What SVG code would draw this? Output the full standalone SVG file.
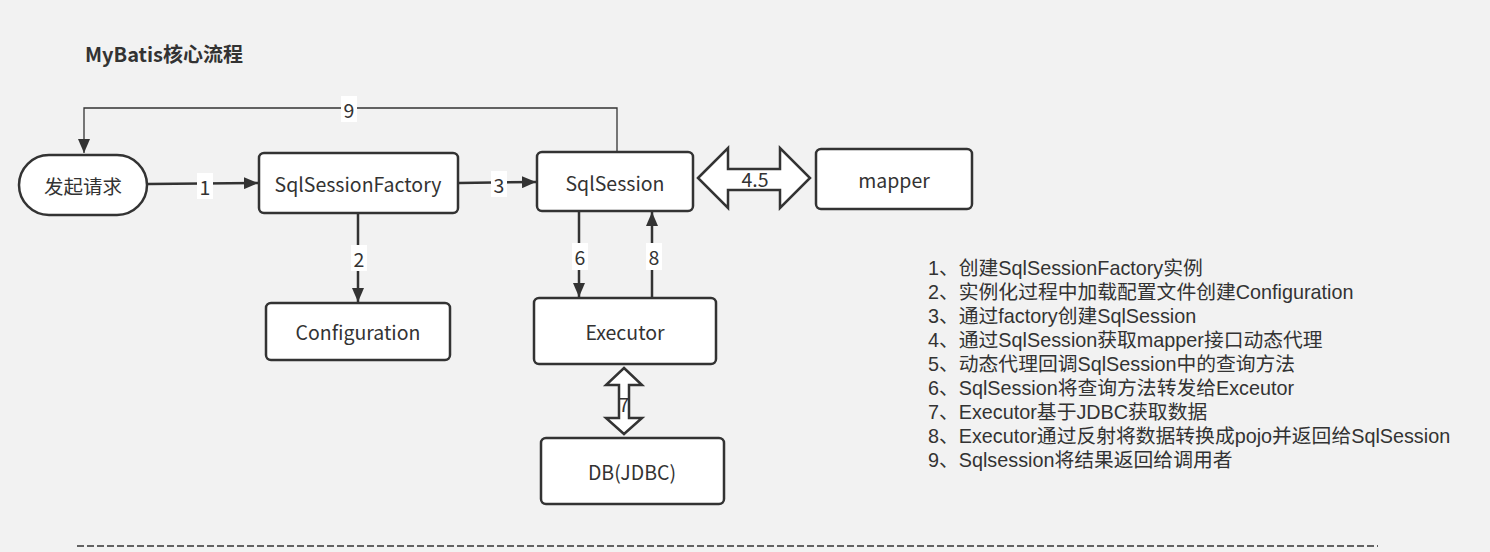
<svg xmlns="http://www.w3.org/2000/svg" width="1490" height="552" viewBox="0 0 1490 552">
<style>
.box{fill:#fff;stroke:#333;stroke-width:2.5}
.t{font-family:"Noto Sans CJK SC","Noto Sans",sans-serif;font-size:19.5px;fill:#333;text-anchor:middle;dominant-baseline:central}
.ln{stroke:#333;stroke-width:2.5;fill:none}
.thin{stroke:#333;stroke-width:1.3;fill:none}
.lbl{fill:#fff}
.note{font-family:"Liberation Sans","Noto Sans CJK SC",sans-serif;font-size:19.8px;fill:#333}
</style>
<defs>
<marker id="ahb" viewBox="0 0 14 12" refX="14" refY="6" markerWidth="14" markerHeight="12" markerUnits="userSpaceOnUse" orient="auto">
<path d="M0,0 L14,6 L0,12 z" fill="#333"/>
</marker>
</defs>
<rect width="1490" height="552" fill="#f2f2f2"/>
<text x="85" y="53" font-family="'Noto Sans CJK SC','Noto Sans',sans-serif" font-size="20" font-weight="bold" fill="#333" dominant-baseline="central">MyBatis核心流程</text>

<g id="connectors">
<line class="ln" x1="148" y1="184" x2="258" y2="183" marker-end="url(#ahb)"/>
<rect class="lbl" x="197" y="173" width="16" height="26"/>
<text class="t" x="205" y="186">1</text>

<line class="ln" x1="459" y1="183" x2="536" y2="182" marker-end="url(#ahb)"/>
<rect class="lbl" x="491" y="171" width="16" height="26"/>
<text class="t" x="499" y="184">3</text>

<line class="ln" x1="358" y1="214" x2="358" y2="302" marker-end="url(#ahb)"/>
<rect class="lbl" x="351" y="245" width="16" height="26"/>
<text class="t" x="359" y="258">2</text>

<line class="ln" x1="579" y1="212" x2="579" y2="297" marker-end="url(#ahb)"/>
<rect class="lbl" x="572" y="243" width="16" height="27"/>
<text class="t" x="580" y="256">6</text>

<line class="ln" x1="652" y1="297" x2="652" y2="212" marker-end="url(#ahb)"/>
<rect class="lbl" x="646" y="243" width="16" height="27"/>
<text class="t" x="654" y="256">8</text>

<polyline class="thin" points="617,152 617,108 84,108 84,153" marker-end="url(#ahb)"/>
<rect class="lbl" x="341" y="96" width="16" height="26"/>
<text class="t" x="349" y="109">9</text>

<path d="M698,178 L728,148 L728,169 L780,169 L780,148 L810,178 L780,208 L780,190 L728,190 L728,208 Z" fill="#fff" stroke="#333" stroke-width="2.5" stroke-linejoin="miter"/>
<text class="t" x="755" y="178">4.5</text>

<path d="M624,368 L642,385 L629,385 L629,418 L642,418 L624,434 L606,418 L619,418 L619,385 L606,385 Z" fill="#fff" stroke="#333" stroke-width="2.5"/>
<text class="t" x="624" y="403">7</text>
</g>

<g id="n-request"><rect class="box" x="19" y="155" width="128" height="60" rx="30"/><text class="t" x="83" y="185">发起请求</text></g>
<g id="n-factory"><rect class="box" x="259" y="153" width="199" height="60" rx="5"/><text class="t" x="358" y="183">SqlSessionFactory</text></g>
<g id="n-session"><rect class="box" x="537" y="152" width="156" height="59" rx="5"/><text class="t" x="615" y="182">SqlSession</text></g>
<g id="n-mapper"><rect class="box" x="816" y="149" width="156" height="60" rx="5"/><text class="t" x="894" y="179">mapper</text></g>
<g id="n-config"><rect class="box" x="266" y="303" width="184" height="57" rx="5"/><text class="t" x="358" y="331">Configuration</text></g>
<g id="n-executor"><rect class="box" x="534" y="298" width="182" height="66" rx="5"/><text class="t" x="625" y="331">Executor</text></g>
<g id="n-db"><rect class="box" x="541" y="438" width="183" height="66" rx="5"/><text class="t" x="632" y="471">DB(JDBC)</text></g>

<g id="notes">
<text class="note" x="928" y="275">1、创建SqlSessionFactory实例</text>
<text class="note" x="928" y="299">2、实例化过程中加载配置文件创建Configuration</text>
<text class="note" x="928" y="323">3、通过factory创建SqlSession</text>
<text class="note" x="928" y="347">4、通过SqlSession获取mapper接口动态代理</text>
<text class="note" x="928" y="371">5、动态代理回调SqlSession中的查询方法</text>
<text class="note" x="928" y="395">6、SqlSession将查询方法转发给Exceutor</text>
<text class="note" x="928" y="419">7、Executor基于JDBC获取数据</text>
<text class="note" x="928" y="443">8、Executor通过反射将数据转换成pojo并返回给SqlSession</text>
<text class="note" x="928" y="467">9、Sqlsession将结果返回给调用者</text>
</g>

<line x1="77" y1="546" x2="1378" y2="546" stroke="#333" stroke-width="1.5" stroke-dasharray="7,3"/>
</svg>
